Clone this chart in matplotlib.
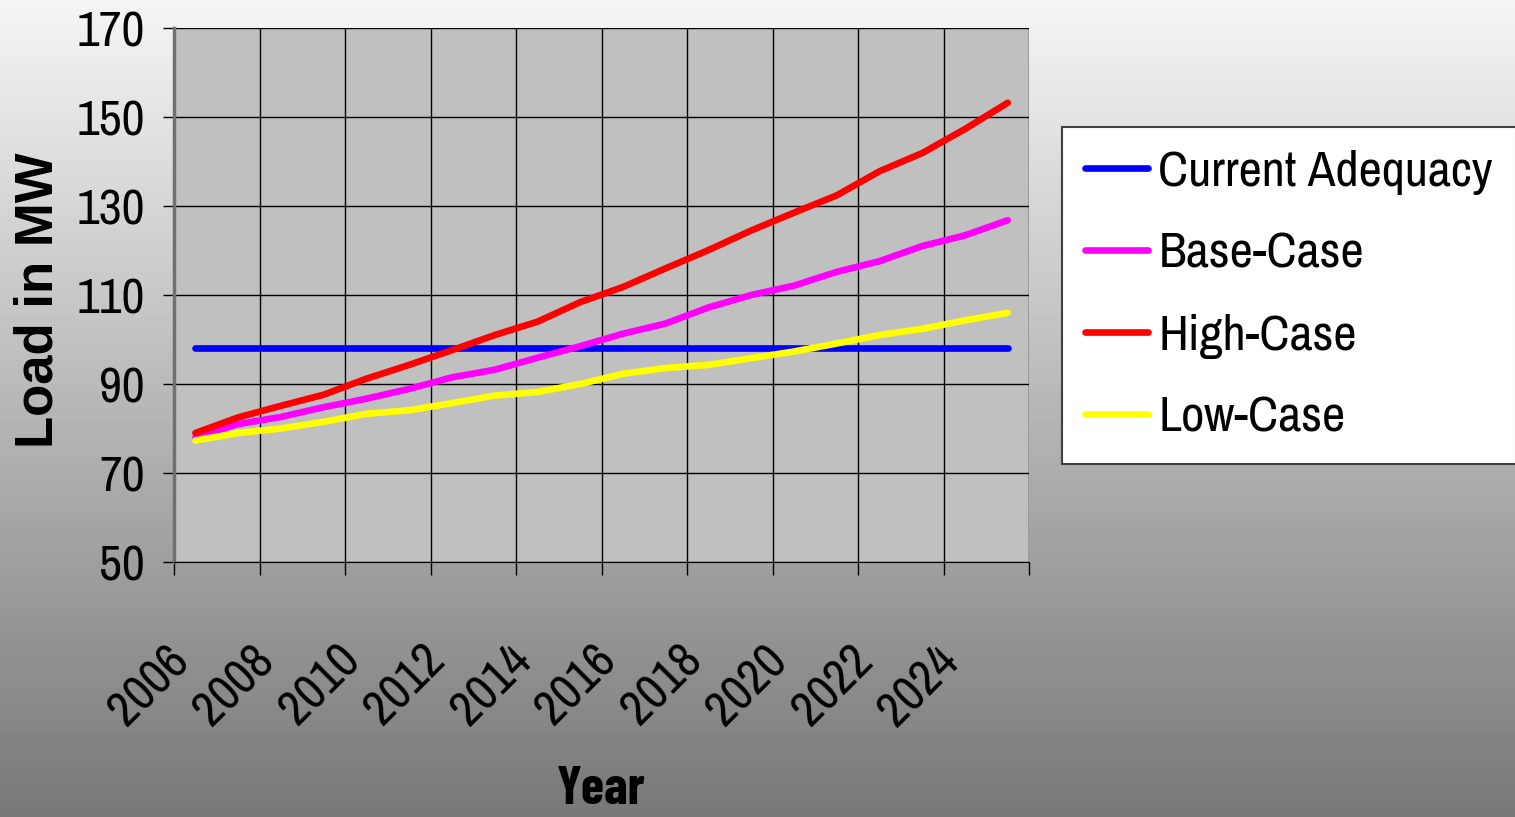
import numpy as np
import matplotlib
matplotlib.use('Agg')
import matplotlib.pyplot as plt
from matplotlib.transforms import ScaledTranslation

plt.rcParams['font.family'] = ['Archivo Narrow', 'Liberation Sans', 'DejaVu Sans']

years = [2006, 2007, 2008, 2009, 2010, 2011, 2012, 2013, 2014, 2015,
         2016, 2017, 2018, 2019, 2020, 2021, 2022, 2023, 2024, 2025]
current = [98, 98, 98, 98, 98, 98, 98, 98, 98, 98,
           98, 98, 98, 98, 98, 98, 98, 98, 98, 98]
base = [78.0, 81.0, 82.6, 84.8, 86.7, 88.9, 91.5, 93.2, 95.9, 98.5,
        101.3, 103.6, 107.2, 110.0, 112.1, 115.2, 117.6, 121.0, 123.4, 126.8]
high = [79.0, 82.5, 85.1, 87.6, 91.2, 94.3, 97.6, 101.0, 104.0, 108.4,
        111.8, 116.0, 120.1, 124.5, 128.5, 132.4, 137.8, 141.9, 147.3, 153.2]
low = [77.3, 79.0, 80.0, 81.5, 83.3, 84.1, 85.7, 87.4, 88.2, 90.0,
       92.3, 93.6, 94.3, 95.8, 97.3, 99.1, 101.0, 102.4, 104.3, 106.0]

series = [('Current Adequacy', current, '#0000FF'),
          ('Base-Case', base, '#FF00FF'),
          ('High-Case', high, '#FF0000'),
          ('Low-Case', low, '#FFFF00')]

fig = plt.figure(figsize=(15.15, 8.17), dpi=100)

# grey gradient behind everything
bg = fig.add_axes([0, 0, 1, 1], zorder=-10)
bg.imshow(np.linspace(0.96, 0.47, 256)[:, None], cmap='gray', vmin=0, vmax=1,
          aspect='auto', extent=[0, 1, 0, 1])
bg.axis('off')

ax = fig.add_axes([0.1149, 0.3121, 0.5644, 0.6536])
ax.set_facecolor('#C0C0C0')
ax.set_axisbelow(True)

for name, vals, col in series:
    ax.plot(years, vals, color=col, lw=4.8, solid_capstyle='round', label=name)

ax.set_xlim(years[0] - 0.5, years[-1] + 0.5)
ax.set_ylim(50, 170)
ax.set_yticks(np.arange(50, 171, 20))
ax.set_xticks(np.arange(years[0] - 0.5, years[-1] + 1, 2))
ax.tick_params(axis='x', which='major', length=9.5, width=1, labelbottom=False)
ax.tick_params(axis='x', which='minor', length=0, pad=54, labelsize=36)
ax.tick_params(axis='y', length=8, width=1, pad=13, labelsize=36)
ax.set_xticks(years[::2], labels=[str(y) for y in years[::2]], minor=True)
# excel puts the rotated year labels a bit left of the category centre
shift = ScaledTranslation(-0.3, 0, fig.dpi_scale_trans)
for lbl in ax.get_xticklabels(minor=True):
    lbl.set_rotation(45)
    lbl.set_ha('right')
    lbl.set_va('top')
    lbl.set_rotation_mode('anchor')
    lbl.set_transform(lbl.get_transform() + shift)

ax.grid(True, which='major', color='black', lw=1.0)

ax.spines['top'].set_visible(False)
ax.spines['right'].set_visible(False)
ax.spines['left'].set_color('#707070')
ax.spines['left'].set_linewidth(2.5)
ax.spines['bottom'].set_color('black')

leg = ax.legend(loc='upper left', bbox_to_anchor=(0.701, 0.8446),
                bbox_transform=fig.transFigure, fontsize=36.5, frameon=True,
                fancybox=False, framealpha=1, edgecolor='#404040',
                handlelength=1.25, handletextpad=0.2, labelspacing=0.73,
                borderpad=0.45, borderaxespad=0)
leg.get_frame().set_linewidth(1.5)

fig.text(0.0251, 1 - 300 / 817, 'Load in MW', rotation=90, fontsize=38,
         fontweight='bold', ha='center', va='center', family='Liberation Sans')
fig.text(0.397, 1 - 790 / 817, 'Year', fontsize=38, fontweight='bold',
         ha='center', va='center', family=['Barlow Condensed', 'Liberation Sans'])

fig.savefig('out.png', dpi=100)
